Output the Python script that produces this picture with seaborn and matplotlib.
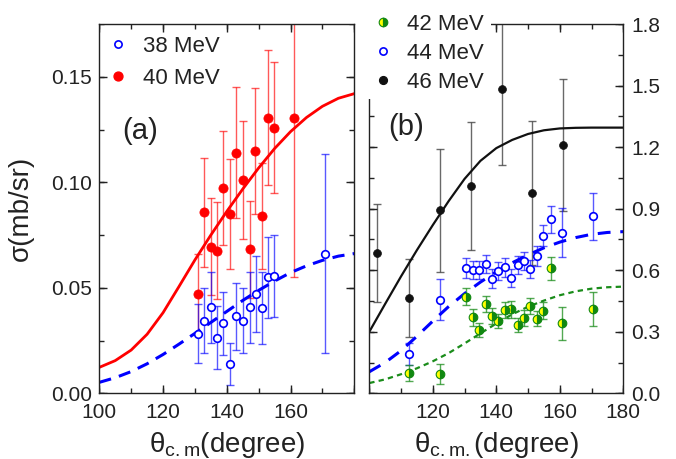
import numpy as np
import pandas as pd
import matplotlib
matplotlib.use("Agg")
import matplotlib.pyplot as plt
from matplotlib.lines import Line2D
from matplotlib.ticker import MultipleLocator, FuncFormatter
import seaborn as sns

# ---------------- data ----------------
# panel (a) : 38 MeV (open blue)
a38_theta = [130.9, 133.0, 135.0, 137.0, 138.9, 141.0, 143.0, 145.1, 147.2, 149.2, 151.1, 153.0, 154.8, 170.8]
a38_sigma = [0.0283, 0.0344, 0.0407, 0.0264, 0.0332, 0.0138, 0.0365, 0.0344, 0.0407, 0.0470, 0.0406, 0.0549, 0.0555, 0.0662]
a38_err = [0.014, 0.0155, 0.017, 0.015, 0.015, 0.010, 0.016, 0.0155, 0.017, 0.018, 0.017, 0.019, 0.0195, 0.047]

# panel (a) : 40 MeV (filled red)
a40_theta = [130.9, 133.0, 135.0, 137.0, 138.9, 141.0, 143.0, 145.1, 147.2, 149.0, 151.1, 153.0, 154.7, 161.1]
a40_sigma = [0.0472, 0.0857, 0.0695, 0.0676, 0.0972, 0.0850, 0.1140, 0.1009, 0.0682, 0.1149, 0.0840, 0.1305, 0.1258, 0.1303]
a40_err = [0.019, 0.026, 0.023, 0.023, 0.027, 0.026, 0.031, 0.028, 0.023, 0.030, 0.025, 0.032, 0.031, 0.075]

# panel (a) fit curves
fit_theta = [100, 105, 110, 115, 120, 125, 130, 135, 140, 145, 150, 155, 160, 165, 170, 175, 180]
fit_a40 = [0.0123, 0.0155, 0.0205, 0.0280, 0.0382, 0.0506, 0.0632, 0.0750, 0.0862, 0.0968, 0.1068, 0.1160, 0.1240, 0.1307, 0.1360, 0.1398, 0.1420]
fit_a38 = [0.0052, 0.0074, 0.0103, 0.0140, 0.0184, 0.0233, 0.0284, 0.0336, 0.0388, 0.0440, 0.0488, 0.0532, 0.0572, 0.0604, 0.0630, 0.0650, 0.0662]

# panel (b) : 42 MeV (half-filled green)
b42_theta = [112.5, 122.2, 130.6, 132.6, 134.6, 136.7, 138.6, 140.6, 142.6, 144.6, 146.7, 148.7, 150.7, 152.7, 154.6, 157.2, 160.8, 170.6]
b42_sigma = [0.100, 0.094, 0.471, 0.370, 0.308, 0.434, 0.377, 0.352, 0.407, 0.409, 0.334, 0.368, 0.425, 0.364, 0.403, 0.609, 0.341, 0.409]
b42_err = [0.038, 0.047, 0.040, 0.040, 0.035, 0.040, 0.040, 0.035, 0.040, 0.040, 0.035, 0.040, 0.040, 0.035, 0.040, 0.057, 0.080, 0.083]

# panel (b) : 44 MeV (open blue)
b44_theta = [112.5, 122.2, 130.6, 132.6, 134.6, 136.7, 138.6, 140.6, 142.6, 144.6, 146.7, 148.7, 150.7, 152.7, 154.6, 157.2, 160.8, 170.6]
b44_sigma = [0.193, 0.455, 0.611, 0.601, 0.601, 0.629, 0.559, 0.596, 0.614, 0.562, 0.625, 0.646, 0.607, 0.669, 0.768, 0.848, 0.783, 0.863]
b44_err = [0.053, 0.100, 0.048, 0.045, 0.045, 0.045, 0.045, 0.045, 0.045, 0.045, 0.045, 0.045, 0.045, 0.050, 0.050, 0.065, 0.120, 0.115]

# panel (b) : 46 MeV (filled black)
b46_theta = [102.5, 112.5, 122.2, 132.0, 141.7, 151.2, 160.9]
b46_sigma = [0.685, 0.466, 0.893, 1.010, 1.481, 0.975, 1.210]
b46_err = [0.240, 0.190, 0.300, 0.310, 0.370, 0.350, 0.320]

# panel (b) fit curves
fit_b46 = [0.300, 0.436, 0.570, 0.698, 0.820, 0.937, 1.045, 1.133, 1.195, 1.235, 1.264, 1.282, 1.291, 1.294, 1.295, 1.295, 1.295]
fit_b44 = [0.105, 0.150, 0.208, 0.278, 0.352, 0.423, 0.486, 0.542, 0.592, 0.636, 0.675, 0.709, 0.737, 0.759, 0.775, 0.784, 0.788]
fit_b42 = [0.050, 0.068, 0.093, 0.122, 0.156, 0.196, 0.243, 0.292, 0.340, 0.385, 0.422, 0.452, 0.478, 0.497, 0.510, 0.517, 0.520]

labels_a = ["38 MeV", "40 MeV"]
labels_b = ["42 MeV", "44 MeV", "46 MeV"]

# ---------------- style ----------------
sns.set_theme(style="ticks")
TXT = "#222222"
plt.rcParams.update({
    "font.family": ["Liberation Sans", "DejaVu Sans"],
    "mathtext.fontset": "custom",
    "mathtext.rm": "Liberation Sans",
    "mathtext.it": "Liberation Sans:italic",
    "axes.axisbelow": False,
})

fig = plt.figure(figsize=(6.76, 4.59), dpi=100)
axL = fig.add_axes([0.1469, 0.1431, 0.3772, 0.8046])
axR = fig.add_axes([0.5463, 0.1431, 0.3757, 0.8046])

RED = "#ff0000"
BLUE = "#0000ff"
GREEN = "#1a8c1a"

# ---- panel (a) ----
axL.errorbar(a40_theta, a40_sigma, yerr=a40_err, fmt="none", ecolor=RED, alpha=0.65,
             elinewidth=1.0, capsize=2.6, capthick=1.0, zorder=1.5)
axL.errorbar(a38_theta, a38_sigma, yerr=a38_err, fmt="none", ecolor=BLUE, alpha=0.65,
             elinewidth=1.0, capsize=2.6, capthick=1.0, zorder=1.5)
sns.lineplot(x=fit_theta, y=fit_a40, ax=axL, color=RED, lw=2.0, zorder=2)
sns.lineplot(x=fit_theta, y=fit_a38, ax=axL, color=BLUE, lw=2.2,
             linestyle=(0, (4.0, 2.7)), zorder=2)
sns.scatterplot(x=a40_theta, y=a40_sigma, ax=axL, marker="o", s=44, color=RED,
                edgecolor=RED, linewidth=0.5, zorder=3)
sns.scatterplot(x=a38_theta, y=a38_sigma, ax=axL, marker="o", s=30, facecolor="white",
                edgecolor=BLUE, linewidth=1.2, zorder=3)

# ---- panel (b) ----
axR.errorbar(b46_theta, b46_sigma, yerr=b46_err, fmt="none", ecolor="#444444", alpha=0.8,
             elinewidth=1.0, capsize=2.6, capthick=1.0, zorder=1.5)
axR.errorbar(b44_theta, b44_sigma, yerr=b44_err, fmt="none", ecolor=BLUE, alpha=0.65,
             elinewidth=1.0, capsize=2.6, capthick=1.0, zorder=1.5)
axR.errorbar(b42_theta, b42_sigma, yerr=b42_err, fmt="none", ecolor=GREEN, alpha=0.75,
             elinewidth=1.0, capsize=2.6, capthick=1.0, zorder=1.5)
sns.lineplot(x=fit_theta, y=fit_b46, ax=axR, color="#111111", lw=1.6, zorder=2)
sns.lineplot(x=fit_theta, y=fit_b44, ax=axR, color=BLUE, lw=2.2,
             linestyle=(0, (4.2, 3.2)), zorder=2)
sns.lineplot(x=fit_theta, y=fit_b42, ax=axR, color=GREEN, lw=1.6,
             linestyle=(0, (2.4, 1.9)), zorder=2)
sns.scatterplot(x=b46_theta, y=b46_sigma, ax=axR, marker="o", s=32, color="#111111",
                edgecolor="#111111", linewidth=0.5, zorder=3)
sns.scatterplot(x=b44_theta, y=b44_sigma, ax=axR, marker="o", s=30, facecolor="white",
                edgecolor=BLUE, linewidth=1.2, zorder=3)
axR.plot(b42_theta, b42_sigma, ls="none", marker="o", ms=6.2, fillstyle="left",
         markerfacecolor="#ffff00", markerfacecoloralt="#118811",
         markeredgecolor="#118811", markeredgewidth=0.8, zorder=3)

# ---- axes formatting ----
XLIM = (100, 180)
for ax in (axL, axR):
    ax.xaxis.set_major_locator(MultipleLocator(20))
    ax.xaxis.set_minor_locator(MultipleLocator(10))
    for sp in ax.spines.values():
        sp.set_color(TXT)
        sp.set_linewidth(1.0)

axL.yaxis.set_major_locator(MultipleLocator(0.05))
axL.yaxis.set_minor_locator(MultipleLocator(0.025))
axL.yaxis.set_major_formatter(FuncFormatter(lambda v, p: f"{v:.2f}"))
axL.xaxis.set_major_formatter(FuncFormatter(lambda v, p: "" if v > 170 else f"{v:.0f}"))

axR.yaxis.set_major_locator(MultipleLocator(0.3))
axR.yaxis.set_minor_locator(MultipleLocator(0.15))
axR.yaxis.set_major_formatter(FuncFormatter(lambda v, p: f"{v:.1f}"))
axR.xaxis.set_major_formatter(FuncFormatter(lambda v, p: "" if v < 110 else f"{v:.0f}"))


def inward_ticks(ax, xlim, ylim):
    """Inward tick marks on all four sides, drawn as short line segments."""
    bb = ax.get_position()
    w_px = bb.width * fig.get_figwidth() * fig.dpi
    h_px = bb.height * fig.get_figheight() * fig.dpi
    tx = ax.get_xaxis_transform()
    ty = ax.get_yaxis_transform()
    for loc, size in ((ax.xaxis.get_major_locator(), 8.0), (ax.xaxis.get_minor_locator(), 5.0)):
        locs = [v for v in loc.tick_values(*xlim) if xlim[0] - 1e-9 <= v <= xlim[1] + 1e-9]
        f = size / h_px
        ax.vlines(locs, 0, f, transform=tx, colors=TXT, lw=1.0, zorder=6)
        ax.vlines(locs, 1 - f, 1, transform=tx, colors=TXT, lw=1.0, zorder=6)
    for loc, size in ((ax.yaxis.get_major_locator(), 8.0), (ax.yaxis.get_minor_locator(), 5.0)):
        locs = [v for v in loc.tick_values(*ylim) if ylim[0] - 1e-9 <= v <= ylim[1] + 1e-9]
        f = size / w_px
        ax.hlines(locs, 0, f, transform=ty, colors=TXT, lw=1.0, zorder=6)
        ax.hlines(locs, 1 - f, 1, transform=ty, colors=TXT, lw=1.0, zorder=6)


inward_ticks(axL, XLIM, (0, 0.175))
inward_ticks(axR, XLIM, (0, 1.8))

for ax, ylim in ((axL, (0, 0.175)), (axR, (0, 1.8))):
    ax.set_xlim(*XLIM)
    ax.set_ylim(*ylim)
    ax.tick_params(which="both", direction="in", length=0, labelcolor=TXT, labelsize=15)
    ax.tick_params(axis="x", pad=7)

axL.tick_params(axis="y", pad=5)
axR.tick_params(axis="y", labelleft=False, labelright=True, pad=6)

axL.set_ylabel("σ(mb/sr)", fontsize=20, color=TXT)
axL.yaxis.set_label_coords(-0.255, 0.5)
axL.set_xlabel(r"θ$_{\rm c.m}$(degree)", fontsize=20, color=TXT)
axR.set_xlabel(r"θ$_{\rm c.m.}$(degree)", fontsize=20, color=TXT)
axL.xaxis.set_label_coords(0.5, -0.098)
axR.xaxis.set_label_coords(0.5, -0.098)

axL.text(0.09, 0.71, "(a)", transform=axL.transAxes, fontsize=21, color=TXT, va="center")
axR.text(0.075, 0.72, "(b)", transform=axR.transAxes, fontsize=21, color=TXT, va="center")

# ---- legends ----
hL = [Line2D([], [], ls="none", marker="o", ms=5.2, mfc="white", mec=BLUE, mew=1.2, label=labels_a[0]),
      Line2D([], [], ls="none", marker="o", ms=6.4, mfc=RED, mec=RED, label=labels_a[1])]
legL = axL.legend(handles=hL, loc="upper left", bbox_to_anchor=(109 / 676, 1 - 36 / 459),
                  bbox_transform=fig.transFigure, frameon=False, fontsize=16,
                  handlelength=0.8, handletextpad=0.72, labelspacing=0.49,
                  borderpad=0, borderaxespad=0)
for t in legL.get_texts():
    t.set_color(TXT)

hR = [Line2D([], [], ls="none", marker="o", ms=6.2, fillstyle="left", mfc="#ffff00",
             mfcalt="#118811", mec="#118811", mew=0.8, label=labels_b[0]),
      Line2D([], [], ls="none", marker="o", ms=5.2, mfc="white", mec=BLUE, mew=1.2, label=labels_b[1]),
      Line2D([], [], ls="none", marker="o", ms=5.6, mfc="#111111", mec="#111111", label=labels_b[2])]
legR = axR.legend(handles=hR, loc="upper left", bbox_to_anchor=(367 / 676, 1 - 7 / 459),
                  bbox_transform=fig.transFigure, frameon=True, fancybox=False,
                  facecolor="white", edgecolor="none", framealpha=1.0, fontsize=16,
                  handlelength=0.8, handletextpad=0.72, labelspacing=0.36,
                  borderpad=0.3, borderaxespad=0)
legR.set_zorder(10)
for t in legR.get_texts():
    t.set_color(TXT)

fig.savefig("out.png", dpi=100, facecolor="white")
